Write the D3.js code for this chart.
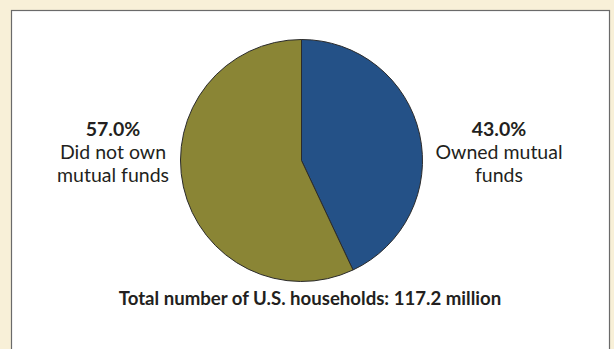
<!DOCTYPE html>
<html>
<head>
<meta charset="utf-8">
<script src="https://cdn.jsdelivr.net/npm/d3@7/dist/d3.min.js"></script>
<style>
  html, body { margin: 0; padding: 0; background: #f8f0d8; }
  svg { display: block; }
</style>
</head>
<body>
<svg id="chart" width="614" height="349"></svg>
<script>
// Household ownership of mutual funds
const categories = ["Owned mutual funds", "Did not own mutual funds"];
const shares = [43.0, 57.0];
const labelLines = [["Owned mutual", "funds"], ["Did not own", "mutual funds"]];
const colors = ["#245187", "#8a8535"];
const totalNote = "Total number of U.S. households: 117.2 million";

const W = 614, H = 349;
const svg = d3.select("#chart");

// framed white panel
svg.append("rect")
  .attr("x", 11.5).attr("y", 10.5)
  .attr("width", 598).attr("height", H + 20)
  .attr("fill", "#ffffff")
  .attr("stroke", "#6a6a6a")
  .attr("stroke-width", 1.2);

const cx = 301.5, cy = 160.5, r = 121;

const pie = d3.pie().sort(null).value(d => d)
  .startAngle(0).endAngle(2 * Math.PI);
const arc = d3.arc().innerRadius(0).outerRadius(r);
const arcs = pie(shares);

const g = svg.append("g").attr("transform", `translate(${cx},${cy})`);
g.selectAll("path")
  .data(arcs)
  .join("path")
  .attr("d", arc)
  .attr("fill", (d, i) => colors[i])
  .attr("stroke", "#2b2b2b")
  .attr("stroke-width", 1)
  .attr("stroke-linejoin", "round");

// labels beside the pie
const labelX = [499, 113];
const fmt = d3.format(".1f");
arcs.forEach((a, i) => {
  const t = svg.append("text")
    .attr("x", labelX[i])
    .attr("y", 136)
    .attr("text-anchor", "middle")
    .attr("font-family", "Lato, 'Open Sans', sans-serif")
    .attr("font-size", 19.5)
    .attr("fill", "#231f20");
  t.append("tspan")
    .attr("x", labelX[i])
    .attr("font-weight", "bold")
    .text(fmt(a.data) + "%");
  labelLines[i].forEach((line) => {
    t.append("tspan")
      .attr("x", labelX[i])
      .attr("dy", 23)
      .text(line);
  });
});

svg.append("text")
  .attr("x", 310)
  .attr("y", 305)
  .attr("text-anchor", "middle")
  .attr("font-family", "Lato, 'Open Sans', sans-serif")
  .attr("font-weight", "bold")
  .attr("font-size", 18.6)
  .attr("fill", "#231f20")
  .text(totalNote);
</script>
</body>
</html>
